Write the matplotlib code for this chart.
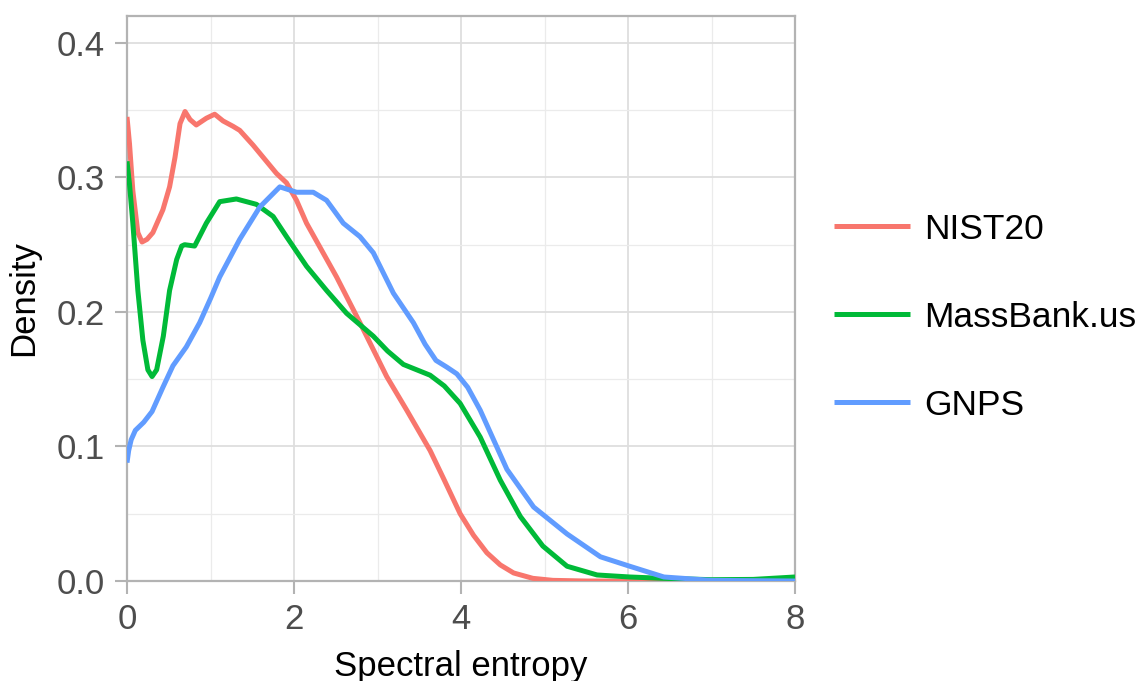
import numpy as np
import matplotlib.pyplot as plt
from matplotlib.ticker import MultipleLocator

# density curves (spectral entropy vs density)
nist_x = [0, 0.03, 0.07, 0.13, 0.18, 0.24, 0.31, 0.43, 0.51, 0.575, 0.635, 0.695, 0.755,
          0.83, 0.95, 1.05, 1.15, 1.27, 1.35, 1.51, 1.63, 1.79, 1.91, 2.03, 2.15, 2.33,
          2.51, 2.65, 2.79, 2.95, 3.11, 3.35, 3.63, 3.8, 3.99, 4.15, 4.31, 4.47, 4.63,
          4.86, 5.1, 5.5, 6.0, 7.0, 8.0]
nist_y = [0.345, 0.325, 0.29, 0.259, 0.252, 0.254, 0.259, 0.276, 0.293, 0.315, 0.340,
          0.349, 0.343, 0.339, 0.344, 0.347, 0.342, 0.338, 0.335, 0.324, 0.315, 0.303,
          0.296, 0.283, 0.266, 0.246, 0.226, 0.209, 0.192, 0.172, 0.152, 0.127, 0.097,
          0.075, 0.050, 0.034, 0.021, 0.012, 0.006, 0.002, 0.0005, 0.0, 0.0, 0.0, 0.0]

mb_x = [0, 0.03, 0.07, 0.13, 0.19, 0.25, 0.30, 0.355, 0.435, 0.51, 0.595, 0.655, 0.69,
        0.81, 0.95, 1.11, 1.31, 1.55, 1.75, 1.91, 2.15, 2.39, 2.63, 2.95, 3.12, 3.31,
        3.47, 3.63, 3.8, 3.99, 4.23, 4.47, 4.71, 4.98, 5.27, 5.63, 6.02, 6.42, 7.0,
        7.5, 8.0]
mb_y = [0.312, 0.295, 0.266, 0.216, 0.179, 0.157, 0.152, 0.157, 0.182, 0.216, 0.239,
        0.249, 0.250, 0.249, 0.266, 0.282, 0.284, 0.280, 0.271, 0.256, 0.234, 0.216,
        0.199, 0.182, 0.171, 0.161, 0.157, 0.153, 0.145, 0.132, 0.107, 0.075, 0.048,
        0.026, 0.011, 0.0045, 0.003, 0.002, 0.001, 0.0012, 0.003]

gnps_x = [0, 0.02, 0.05, 0.1, 0.2, 0.3, 0.43, 0.55, 0.71, 0.87, 1.0, 1.11, 1.35, 1.59,
          1.83, 2.03, 2.23, 2.39, 2.59, 2.79, 2.95, 3.19, 3.43, 3.57, 3.7, 3.83, 3.95,
          4.08, 4.23, 4.55, 4.87, 5.27, 5.67, 6.02, 6.43, 7.0, 8.0]
gnps_y = [0.088, 0.097, 0.105, 0.112, 0.118, 0.126, 0.144, 0.160, 0.174, 0.192, 0.210,
          0.226, 0.254, 0.278, 0.293, 0.289, 0.289, 0.283, 0.266, 0.256, 0.244, 0.214,
          0.192, 0.176, 0.164, 0.159, 0.154, 0.144, 0.127, 0.083, 0.055, 0.035, 0.018,
          0.011, 0.003, 0.0005, 0.0]

labels = ['NIST20', 'MassBank.us', 'GNPS']
colors = ['#F8766D', '#00BA38', '#619CFF']

plt.rcParams['font.family'] = ['Liberation Sans', 'DejaVu Sans']

fig = plt.figure(figsize=(11.38, 6.81), dpi=100)
ax = fig.add_axes([0.1116, 0.1468, 0.587, 0.8297])

series = [(nist_x, nist_y), (mb_x, mb_y), (gnps_x, gnps_y)]
for (xs, ys), lab, col in zip(series, labels, colors):
    ax.plot(xs, ys, color=col, lw=3.6, label=lab, solid_joinstyle='round',
            solid_capstyle='butt', zorder=3)

ax.set_xlim(0, 8)
ax.set_ylim(0, 0.42)
ax.xaxis.set_major_locator(MultipleLocator(2))
ax.xaxis.set_minor_locator(MultipleLocator(1))
ax.yaxis.set_major_locator(MultipleLocator(0.1))
ax.yaxis.set_minor_locator(MultipleLocator(0.05))
ax.set_yticklabels(['%.1f' % v for v in ax.get_yticks()])

ax.grid(which='major', color='#DEDEDE', lw=1.3)
ax.grid(which='minor', color='#EBEBEB', lw=0.9)
ax.set_axisbelow(True)
for s in ax.spines.values():
    s.set_color('#B3B3B3')
    s.set_linewidth(1.6)

ax.tick_params(which='major', length=9, width=1.5, color='#B3B3B3',
               labelsize=25, labelcolor='#4D4D4D', pad=7)
ax.tick_params(which='minor', length=0)

ax.set_xlabel('Spectral entropy', fontsize=25, labelpad=10)
ax.set_ylabel('Density', fontsize=25, labelpad=12)

leg = ax.legend(loc='center left', bbox_to_anchor=(1.011, 0.467), frameon=False,
                fontsize=25.5, handlelength=2.15, handletextpad=0.4, labelspacing=1.55)
for h in leg.get_lines():
    h.set_linewidth(3.6)

fig.savefig('out.png', dpi=100)
